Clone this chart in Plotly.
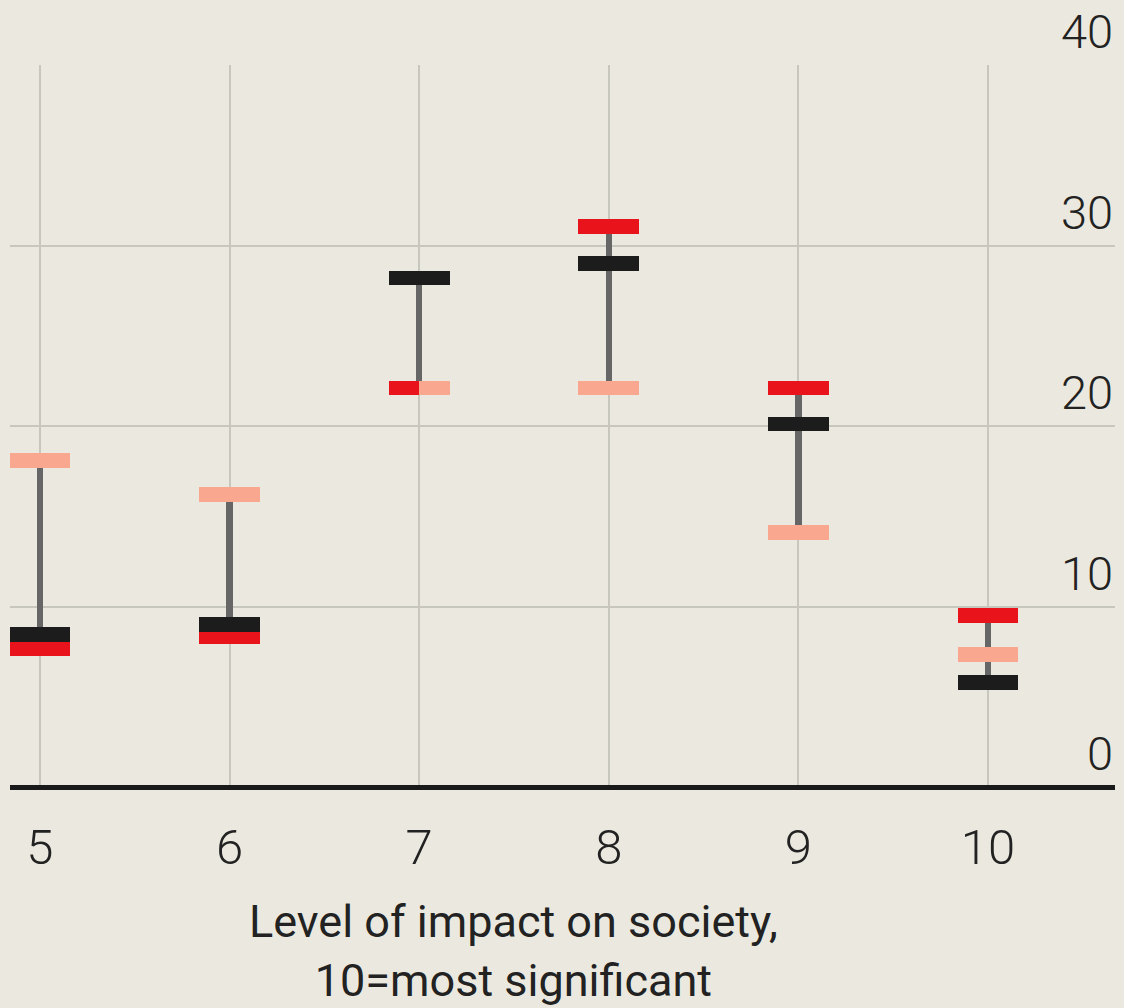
import plotly.graph_objects as go

levels = [5, 6, 7, 8, 9, 10]
black_vals = [8.45, 9.0, 28.2, 29.0, 20.1, 5.8]
red_vals = [7.65, 8.3, 22.1, 31.05, 22.1, 9.5]
pink_vals = [18.1, 16.2, 22.1, 22.1, 14.1, 7.35]
y_ticks = [0, 10, 20, 30, 40]

BG = "#ebe9df"
GRID = "#c8c7be"
FONT = "Roboto, sans-serif"
TXT = "#222222"

BAR_W = 0.32   # in x units
BAR_H = 0.8    # in y units
STEM_W = 0.034

fig = go.Figure()

# grey stem from min to max for each level (as thin bars so dashes sit on top)
lo = [min(b, r, p) for b, r, p in zip(black_vals, red_vals, pink_vals)]
hi = [max(b, r, p) for b, r, p in zip(black_vals, red_vals, pink_vals)]
fig.add_trace(go.Bar(
    x=levels, y=[h - l for l, h in zip(lo, hi)], base=lo,
    width=STEM_W, offset=-STEM_W / 2,
    marker=dict(color="#666666", line=dict(width=0)),
    hoverinfo="skip", showlegend=False,
))


def dash_trace(vals, color, name, offsets=None, widths=None):
    return go.Bar(
        x=levels,
        y=[BAR_H] * len(vals),
        base=[v - BAR_H / 2 for v in vals],
        width=widths or [BAR_W] * len(vals),
        offset=offsets or [-BAR_W / 2] * len(vals),
        marker=dict(color=color, line=dict(width=0)),
        name=name,
        showlegend=False,
        hovertext=[f"{name}: {v}" for v in vals],
        hoverinfo="text",
    )


# where pink equals red the two dashes are shown side by side
pink_off, pink_w = [], []
for r, p in zip(red_vals, pink_vals):
    if abs(r - p) < 0.05:
        pink_off.append(0)
        pink_w.append(BAR_W / 2)
    else:
        pink_off.append(-BAR_W / 2)
        pink_w.append(BAR_W)

fig.add_trace(dash_trace(red_vals, "#e8131b", "red"))
fig.add_trace(dash_trace(pink_vals, "#f9a78f", "pink", pink_off, pink_w))
fig.add_trace(dash_trace(black_vals, "#1c1c1c", "black"))

# y labels sit above gridlines on the right
for t in y_ticks:
    fig.add_annotation(x=1, xref="paper", y=t, yref="y", text=str(t),
                       xanchor="right", yanchor="bottom", yshift=4,
                       showarrow=False,
                       font=dict(family=FONT, size=47, color=TXT, weight=300))

fig.add_annotation(x=7.5, xref="x", y=0, yref="paper",
                   text="Level of impact on society,<br>10=most significant",
                   xanchor="center", yanchor="top", yshift=-106,
                   showarrow=False, align="center",
                   font=dict(family=FONT, size=45, color=TXT))

fig.update_layout(
    width=1124, height=1008,
    margin=dict(l=10, r=9, t=65, b=221),
    paper_bgcolor=BG, plot_bgcolor=BG,
    barmode="overlay",
    bargap=0,
    showlegend=False,
    font=dict(family=FONT, color=TXT),
)
fig.update_xaxes(
    range=[4.842, 10.67],
    tickvals=levels, ticktext=[str(v) for v in levels],
    showgrid=True, gridcolor=GRID, gridwidth=2,
    zeroline=False, showline=False,
    ticks="outside", ticklen=17, tickcolor="rgba(0,0,0,0)",
    tickfont=dict(family=FONT, size=49, color=TXT, weight=300),
)
fig.update_yaxes(
    range=[0, 40],
    tickvals=y_ticks, showticklabels=False,
    showgrid=True, gridcolor=GRID, gridwidth=2,
    zeroline=True, zerolinecolor="#1a1a1a", zerolinewidth=5,
    showline=False,
)

fig.write_html("out.html", config={"displayModeBar": False},
               post_script="document.body.style.margin='0';")
